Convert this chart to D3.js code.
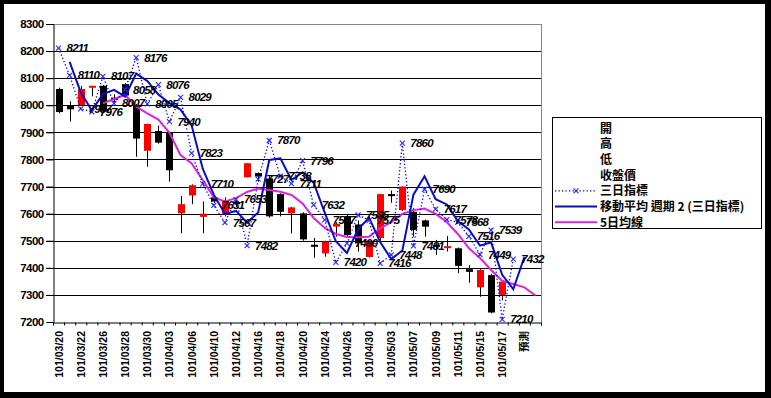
<!DOCTYPE html>
<html>
<head>
<meta charset="utf-8">
<script src="https://cdn.jsdelivr.net/npm/d3@7"></script>
<style>
  body{margin:0;background:#000;}
  svg{display:block;}
</style>
</head>
<body>
<svg id="chart" width="771" height="398"></svg>
<script>
// trading days (民國101年), last two slots: forecast + empty
const dates = ["101/03/20","101/03/21","101/03/22","101/03/23","101/03/26","101/03/27","101/03/28","101/03/29","101/03/30",
  "101/04/02","101/04/03","101/04/05","101/04/06","101/04/09","101/04/10","101/04/11","101/04/12","101/04/13",
  "101/04/16","101/04/17","101/04/18","101/04/19","101/04/20","101/04/23","101/04/24","101/04/25","101/04/26","101/04/27",
  "101/04/30","101/05/02","101/05/03","101/05/04","101/05/07","101/05/08","101/05/09","101/05/10","101/05/11",
  "101/05/14","101/05/15","101/05/16","101/05/17","101/05/18","預測",""];

const openP  = [8060,8000,8000,8067,8072,8028,8078,8000,7832,7905,7898,7601,7667,7588,7660,7597,7642,7734,7750,7730,7672,
  7601,7601,7485,7453,7552,7590,7560,7440,7510,7672,7613,7607,7575,7485,7478,7472,7395,7328,7373,7300];
const highP  = [8065,8015,8071,8072,8075,8040,8082,8005,7932,7925,7900,7665,7708,7645,7662,7660,7658,7786,7752,7743,7675,
  7625,7605,7510,7500,7568,7595,7575,7500,7672,7685,7700,7620,7578,7503,7517,7475,7410,7395,7378,7352];
const lowP   = [7970,7940,7998,8033,7975,8010,8030,7810,7773,7858,7718,7528,7635,7528,7640,7590,7625,7734,7718,7585,7590,
  7527,7500,7437,7441,7515,7515,7460,7438,7500,7640,7610,7515,7515,7448,7460,7380,7345,7293,7232,7280];
const closeP = [7975,7985,8060,8072,7977,8022,8036,7877,7931,7862,7760,7635,7705,7600,7645,7650,7638,7786,7737,7590,7607,
  7623,7505,7483,7497,7562,7521,7490,7497,7672,7666,7700,7540,7552,7483,7480,7407,7385,7392,7235,7349];

// 三日指標
const sanri = [8211,8110,7987,7976,8107,8007,8058,8176,8005,8076,7940,8029,7823,7710,7631,7567,7653,7482,7727,7870,7738,
  7711,7796,7632,7577,7420,7490,7595,7575,7416,7448,7860,7481,7690,7617,7578,7568,7516,7449,7539,7210,7432];

// 移動平均 週期2
const maLine = [null,8160,8048,7981,8041,8057,8032,8117,8090,8040,8008,7984,7926,7766,7670,7599,7610,7567,7604,7798,7804,
  7724,7753,7714,7604,7498,7455,7542,7585,7495,7432,7464,7670,7738,7653,7634,7573,7542,7482,7494,7374,7321,7440];

// 5日均線
const ma5 = [null,null,null,null,8007,8023,8038,7995,7970,7947,7898,7816,7785,7724,7660,7645,7657,7680,7693,7687,7681,
  7669,7638,7584,7547,7525,7514,7513,7515,7546,7569,7599,7613,7619,7599,7569,7525,7472,7436,7392,7352,7340,7328,7298];

const yTicks = [7200,7300,7400,7500,7600,7700,7800,7900,8000,8100,8200,8300];

const legendItems = ["開","高","低","收盤價","三日指標","移動平均  週期 2 (三日指標)","5日均線"];

const svg = d3.select("#chart");
const pLeft = 53, pRight = 541, pTop = 24, pBottom = 322;
const fontNum = "'Liberation Sans', Arial, sans-serif";
const fontCjk = "'Noto Sans CJK TC', 'Noto Sans CJK JP', sans-serif";

svg.append("rect").attr("width",771).attr("height",398).attr("fill","#000");
svg.append("rect").attr("x",4).attr("y",4).attr("width",761).attr("height",388).attr("fill","#fff");

const x = d3.scaleBand().domain(d3.range(dates.length)).range([pLeft,pRight]).padding(0);
const y = d3.scaleLinear().domain([7200,8300]).range([pBottom,pTop]);
const cx = i => x(i) + x.bandwidth()/2;

// grid
svg.append("g").selectAll("line").data(yTicks.filter(t => t>7200 && t<8300)).join("line")
  .attr("x1",pLeft-7).attr("x2",pRight).attr("y1",d=>Math.round(y(d))+0.5).attr("y2",d=>Math.round(y(d))+0.5)
  .attr("stroke","#000").attr("stroke-width",1);
svg.append("line").attr("x1",pLeft).attr("x2",pRight).attr("y1",pTop+0.5).attr("y2",pTop+0.5).attr("stroke","#888");
svg.append("line").attr("x1",pRight+0.5).attr("x2",pRight+0.5).attr("y1",pTop).attr("y2",pBottom).attr("stroke","#888");
svg.append("line").attr("x1",pLeft-7).attr("x2",pLeft).attr("y1",pTop+0.5).attr("y2",pTop+0.5).attr("stroke","#000");

// axes
const yAxis = svg.append("g").attr("transform",`translate(${pLeft+0.5},0)`)
  .call(d3.axisLeft(y).tickValues(yTicks).tickSize(7).tickFormat(d3.format("d")));
yAxis.select(".domain").attr("stroke","#000");
yAxis.selectAll("text").attr("font-family",fontNum).attr("font-size",11.5).attr("font-weight","bold")
  .attr("letter-spacing",-0.6).attr("x",-10).attr("fill","#000");

const xAxis = svg.append("g").attr("transform",`translate(0,${pBottom+0.5})`)
  .call(d3.axisBottom(d3.scaleLinear().domain([0,dates.length]).range([pLeft,pRight]))
    .tickValues(d3.range(dates.length+1)).tickSize(3).tickFormat(""));
xAxis.select(".domain").attr("stroke","#000");

svg.append("g").selectAll("text").data(dates.map((d,i)=>({d,i})).filter(o => o.i%2===0 && o.d!=="")).join("text")
  .attr("transform",o=>`translate(${cx(o.i)+4},${pBottom+9}) rotate(-90)`)
  .attr("text-anchor","end")
  .attr("font-family",o => o.d==="預測" ? fontCjk : fontNum)
  .attr("font-size",10.5).attr("font-weight","bold").attr("fill","#000")
  .text(o=>o.d);

// candles
const candles = svg.append("g").selectAll("g").data(openP.map((o,i)=>({i,o,h:highP[i],l:lowP[i],c:closeP[i]}))).join("g");
candles.append("line")
  .attr("x1",d=>Math.round(cx(d.i))+0.5).attr("x2",d=>Math.round(cx(d.i))+0.5)
  .attr("y1",d=>y(d.h)).attr("y2",d=>y(d.l)).attr("stroke","#000").attr("stroke-width",1);
candles.append("rect")
  .attr("x",d=>Math.round(cx(d.i))-3).attr("width",7)
  .attr("y",d=>y(Math.max(d.o,d.c))).attr("height",d=>Math.max(2,y(Math.min(d.o,d.c))-y(Math.max(d.o,d.c))))
  .attr("fill",d=>d.c>=d.o ? "#ff0000" : "#000");

// 5日均線
svg.append("path").datum(ma5.map((v,i)=>({v,i})).filter(d=>d.v!=null))
  .attr("fill","none").attr("stroke","#dd22dd").attr("stroke-width",2)
  .attr("d",d3.line().x(d=>cx(d.i)).y(d=>y(d.v)));

// moving average line
svg.append("path").datum(maLine.map((v,i)=>({v,i})).filter(d=>d.v!=null))
  .attr("fill","none").attr("stroke","#0a0ac8").attr("stroke-width",2)
  .attr("d",d3.line().x(d=>cx(d.i)).y(d=>y(d.v)));

// 三日指標 dotted with x markers
const sanriPts = sanri.map((v,i)=>({v,i}));
svg.append("path").datum(sanriPts)
  .attr("fill","none").attr("stroke","#0000ff").attr("stroke-width",1.3).attr("stroke-dasharray","1.3,2.2")
  .attr("d",d3.line().x(d=>cx(d.i)).y(d=>y(d.v)));
svg.append("g").selectAll("path").data(sanriPts).join("path")
  .attr("d",d=>{const a=cx(d.i), b=y(d.v); return `M${a-2.5},${b-2.5}L${a+2.5},${b+2.5}M${a-2.5},${b+2.5}L${a+2.5},${b-2.5}`;})
  .attr("stroke","#2a2aff").attr("stroke-width",1.1).attr("fill","none");
svg.append("g").selectAll("text").data(sanriPts).join("text")
  .attr("x",d=>cx(d.i)+8).attr("y",d=>y(d.v)+4)
  .attr("font-family",fontNum).attr("font-size",11.5).attr("font-style","italic").attr("font-weight","bold")
  .attr("letter-spacing",-0.8).attr("fill","#000")
  .text(d=>d.v);

// legend
const lg = svg.append("g").attr("transform","translate(552,117)");
lg.append("rect").attr("x",0.5).attr("y",0.5).attr("width",209).attr("height",111).attr("fill","#fff").attr("stroke","#000");
const rowY = i => 11 + i*15.7;
lg.selectAll("text").data(legendItems).join("text")
  .attr("x",48).attr("y",(d,i)=>rowY(i)+4.5)
  .attr("font-family",fontCjk).attr("font-size",12).attr("font-weight","bold").attr("fill","#000")
  .text(d=>d);
lg.append("line").attr("x1",3).attr("x2",45).attr("y1",rowY(4)).attr("y2",rowY(4))
  .attr("stroke","#0000ff").attr("stroke-width",1.3).attr("stroke-dasharray","1.3,2.2");
lg.append("path").attr("d",`M21.5,${rowY(4)-2.5}L26.5,${rowY(4)+2.5}M21.5,${rowY(4)+2.5}L26.5,${rowY(4)-2.5}`)
  .attr("stroke","#2a2aff").attr("stroke-width",1.1);
lg.append("line").attr("x1",3).attr("x2",45).attr("y1",rowY(5)).attr("y2",rowY(5)).attr("stroke","#0a0ac8").attr("stroke-width",2);
lg.append("line").attr("x1",3).attr("x2",45).attr("y1",rowY(6)).attr("y2",rowY(6)).attr("stroke","#dd22dd").attr("stroke-width",2);
</script>
</body>
</html>
